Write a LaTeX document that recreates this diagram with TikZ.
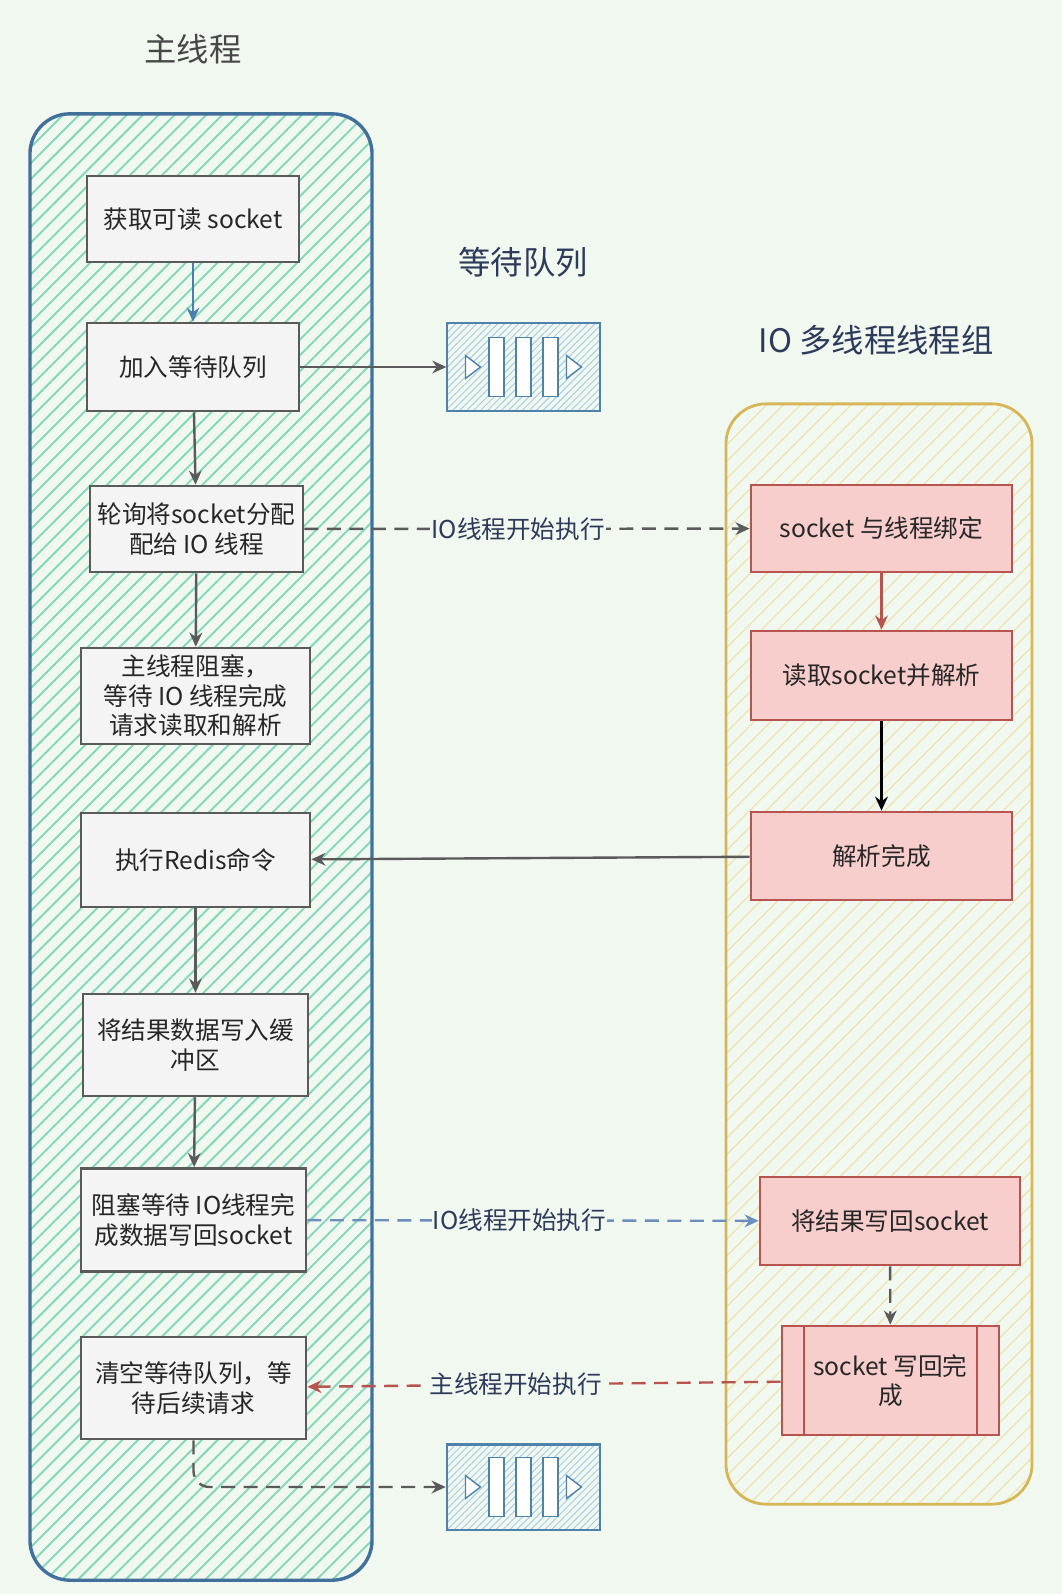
\documentclass[tikz,border=0pt]{standalone}
\usepackage{fontspec}
\setmainfont{Noto Sans CJK SC}
\usetikzlibrary{arrows.meta, patterns.meta, calc}
\definecolor{paperbg}{HTML}{F1F8F0}
\definecolor{inkgray}{HTML}{5A5A5A}
\definecolor{textdark}{HTML}{262626}
\definecolor{labelnavy}{HTML}{2E3A59}
\definecolor{mainborder}{HTML}{41709A}
\definecolor{mainhatch}{HTML}{86D8BC}
\definecolor{ioborder}{HTML}{D6B656}
\definecolor{iohatch}{HTML}{EDE3B3}
\definecolor{stepfill}{HTML}{F3F4F3}
\definecolor{workfill}{HTML}{F8CECC}
\definecolor{workdraw}{HTML}{B85450}
\definecolor{queuedraw}{HTML}{4F82AA}
\definecolor{queuehatch}{HTML}{A9CDE6}
\definecolor{flowblue}{HTML}{6C8EBF}
\definecolor{flowsteel}{HTML}{4A7EAF}

\begin{document}
\begin{tikzpicture}[
  x=0.025cm, y=-0.025cm,
  >={Stealth[open, length=10pt, width=9pt]},
  every node/.style={font=\fontsize{17.5}{21}\selectfont, text=textdark},
  align=center,
]

\tikzset{
  lane/.style={rectangle, rounded corners=1cm, line width=2.4pt},
  mainlane/.style={lane, draw=mainborder,
    pattern={Lines[angle=45, distance=8pt, line width=1.4pt]}, pattern color=mainhatch},
  iolane/.style={lane, draw=ioborder, line width=2pt,
    pattern={Lines[angle=45, distance=8.5pt, line width=0.9pt]}, pattern color=iohatch},
  title/.style={font=\fontsize{23}{27}\selectfont},
  stepbox/.style={rectangle, draw=inkgray, fill=stepfill, line width=1.8pt, inner sep=1pt},
  workbox/.style={rectangle, draw=workdraw, fill=workfill, line width=1.8pt, inner sep=1pt,
    minimum width=6.53cm, minimum height=2.2cm},
  donebox/.style={workbox, path picture={
      \draw[workdraw, line width=1.6pt]
        ([xshift=0.55cm]path picture bounding box.north west) -- ([xshift=0.55cm]path picture bounding box.south west);
      \draw[workdraw, line width=1.6pt]
        ([xshift=-0.55cm]path picture bounding box.north east) -- ([xshift=-0.55cm]path picture bounding box.south east);
    }},
  queue/.style={rectangle, draw=queuedraw, line width=1.6pt, minimum width=3.83cm,
    pattern={Lines[angle=45, distance=3.5pt, line width=0.7pt]}, pattern color=queuehatch},
  flowline/.style={->, inkgray, line width=1.7pt},
  dashline/.style={->, inkgray, line width=1.7pt, dash pattern=on 10pt off 6pt},
  edgetag/.style={fill=paperbg, text=labelnavy, inner sep=1pt},
}

\newcommand{\queueshape}[1]{
  \foreach \dx in {-27,0,27}
    \draw[queuedraw, fill=white, line width=1pt]
      ($(#1)+(\dx-7.5,-29.5)$) rectangle ($(#1)+(\dx+7.5,29.5)$);
  \foreach \dx in {-58,43}
    \draw[queuedraw, fill=white, line width=1pt]
      ($(#1)+(\dx,-11.5)$) -- ($(#1)+(\dx+15,0)$) -- ($(#1)+(\dx,11.5)$) -- cycle;
}

\fill[paperbg] (0,0) rectangle (1062,1594);
\useasboundingbox (0,0) rectangle (1062,1594);

% ---------------------------------------------------------------
% lanes and titles
% ---------------------------------------------------------------
\node[mainlane, minimum width=8.55cm, minimum height=36.65cm] (mainlane) at (201,847) {};
\node[iolane,   minimum width=7.65cm, minimum height=27.5cm]  (iolane)   at (879,954) {};

\node[title, text=textdark!85]  (tmain)  at (193,49)  {主线程};
\node[title, text=labelnavy]    (tqueue) at (523,262) {等待队列};
\node[title, text=labelnavy]    (tio)    at (876,340) {IO 多线程线程组};

% ---------------------------------------------------------------
% main thread steps
% ---------------------------------------------------------------
\node[stepbox, minimum width=5.3cm,  minimum height=2.15cm] (b1) at (193,219)    {获取可读 socket};
\node[stepbox, minimum width=5.3cm,  minimum height=2.2cm]  (b2) at (193,367)    {加入等待队列};
\node[stepbox, minimum width=5.33cm, minimum height=2.15cm] (b3) at (196.5,529)  {轮询将socket分配\\配给 IO 线程};
\node[stepbox, minimum width=5.73cm, minimum height=2.4cm]  (b4) at (195.5,696)  {主线程阻塞，\\等待 IO 线程完成\\请求读取和解析};
\node[stepbox, minimum width=5.73cm, minimum height=2.35cm] (b5) at (195.5,860)  {执行Redis命令};
\node[stepbox, minimum width=5.63cm, minimum height=2.55cm] (b6) at (195.5,1045) {将结果数据写入缓\\冲区};
\node[stepbox, minimum width=5.63cm, minimum height=2.58cm] (b7) at (193.5,1220) {阻塞等待 IO线程完\\成数据写回socket};
\node[stepbox, minimum width=5.63cm, minimum height=2.55cm] (b8) at (193.5,1388) {清空等待队列，等\\待后续请求};

% ---------------------------------------------------------------
% queues
% ---------------------------------------------------------------
\node[queue, minimum height=2.2cm]  (q1) at (523.5,367)  {};
\node[queue, minimum height=2.13cm] (q2) at (523.5,1487) {};
\queueshape{q1}
\queueshape{q2}

% ---------------------------------------------------------------
% IO thread group
% ---------------------------------------------------------------
\node[workbox, minimum height=2.18cm] (r1) at (881.5,528.5) {socket 与线程绑定};
\node[workbox, minimum height=2.23cm] (r2) at (881.5,675.5) {读取socket并解析};
\node[workbox]                        (r3) at (881.5,856)   {解析完成};
\node[workbox, minimum width=6.5cm]   (r4) at (890,1221)    {将结果写回socket};
\node[donebox, minimum width=5.43cm, minimum height=2.73cm] (r5) at (890.5,1380.5) {socket 写回完\\成};

% connectors
\draw[flowline, flowsteel] (b1) -- (b2);
\draw[flowline] (b2) -- (q1);
\draw[flowline] (b2) -- (b3);
\draw[dashline] (b3) -- node[edgetag, pos=0.48]{IO线程开始执行} (r1);
\draw[flowline] (b3) -- (b4);
\draw[flowline, workdraw] (r1) -- (r2);
\draw[flowline, black, line width=2pt] (r2) -- (r3);
\draw[flowline] (r3) -- (b5);
\draw[flowline] (b5) -- (b6);
\draw[flowline] (b6) -- (b7);
\draw[dashline, flowblue] (b7) -- node[edgetag, pos=0.47]{IO线程开始执行} (r4);
\draw[dashline] (r4) -- (r5);
\draw[dashline, workdraw] (r5) -- node[edgetag, pos=0.56]{主线程开始执行} (b8);
\draw[dashline, rounded corners=0.4cm] (b8.south) |- (q2.west);

\end{tikzpicture}
\end{document}
